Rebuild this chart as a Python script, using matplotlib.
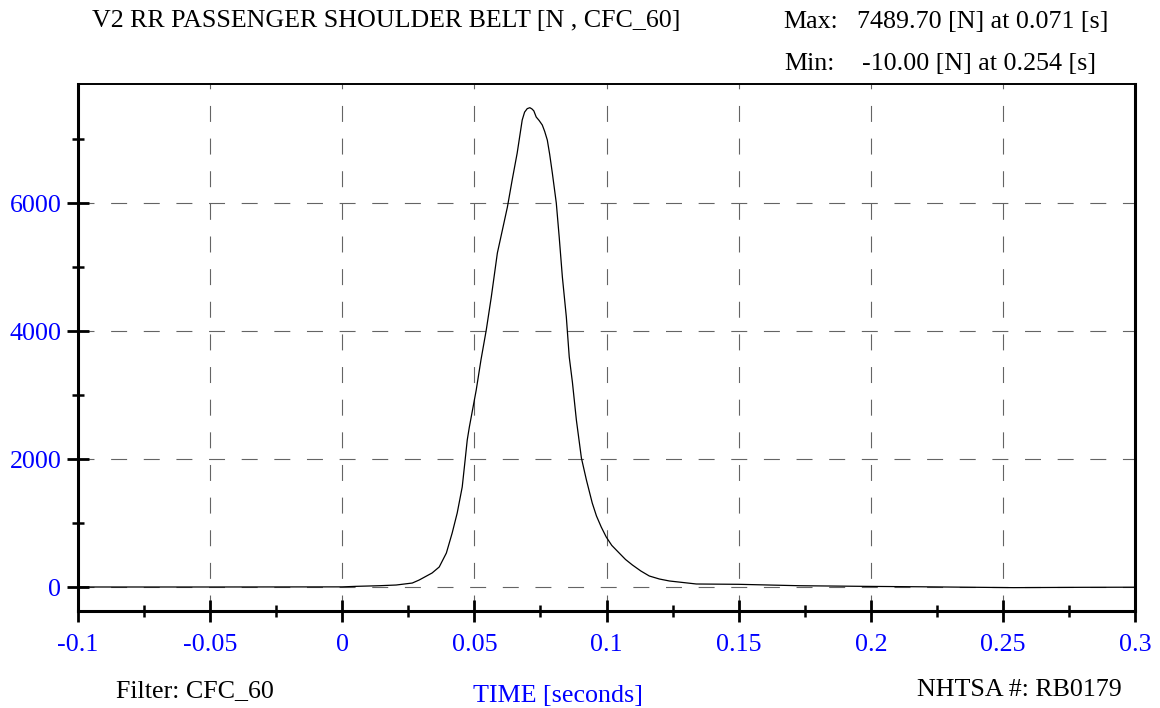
import matplotlib
matplotlib.use("Agg")
import matplotlib.pyplot as plt
from matplotlib.ticker import FixedLocator

plt.rcParams['lines.scale_dashes'] = False
plt.rcParams['font.family'] = ['Liberation Serif', 'DejaVu Serif']

# ---- data ----
time_s = [-0.1, -0.05, 0.0, 0.005, 0.014, 0.0204, 0.0265, 0.0291, 0.0340, 0.0367,
          0.0394, 0.0416, 0.0435, 0.0454, 0.0465, 0.0473, 0.0481, 0.0500, 0.0507,
          0.0525, 0.0545, 0.0564, 0.0587, 0.0606, 0.0625, 0.0643, 0.0662, 0.0681,
          0.0690, 0.0700, 0.0710, 0.0718, 0.0725, 0.0734, 0.0745, 0.0757, 0.0766,
          0.0776, 0.0785, 0.0795, 0.0810, 0.0821, 0.0833, 0.0848, 0.0859, 0.0871,
          0.0886, 0.0905, 0.0924, 0.0946, 0.0962, 0.0980, 0.0999, 0.1020, 0.1048,
          0.1072, 0.1098, 0.1130, 0.1162, 0.1200, 0.1238, 0.1340, 0.150, 0.173,
          0.198, 0.22, 0.254, 0.28, 0.3]
force_n = [0, 0, 2, 10, 20, 31, 62, 109, 219, 313,
           531, 844, 1156, 1563, 1984, 2297, 2500, 2922, 3078,
           3550, 4016, 4531, 5219, 5578, 5938, 6359, 6781, 7297,
           7420, 7475, 7489.7, 7470, 7440, 7344, 7290, 7219, 7120,
           6984, 6760, 6469, 6000, 5469, 4844, 4219, 3594, 3200,
           2609, 2016, 1672, 1313, 1110, 938, 781, 650, 531,
           430, 344, 250, 172, 125, 94, 47, 42, 20,
           10, 3, -10, -5, -3]

x_major = [-0.1, -0.05, 0.0, 0.05, 0.1, 0.15, 0.2, 0.25, 0.3]
x_major_labels = ["-0.1", "-0.05", "0", "0.05", "0.1", "0.15", "0.2", "0.25", "0.3"]
x_minor = [-0.075, -0.025, 0.025, 0.075, 0.125, 0.175, 0.225, 0.275]
y_major = [0, 2000, 4000, 6000]
y_major_labels = ["0", "2000", "4000", "6000"]
y_minor = [1000, 3000, 5000, 7000]

title_text = "V2 RR PASSENGER SHOULDER BELT [N , CFC_60]"
max_label, max_value = "Max:", "7489.70 [N] at 0.071 [s]"
min_label, min_value = "Min:", "-10.00 [N] at 0.254 [s]"
filter_text = "Filter: CFC_60"
xlabel_text = "TIME [seconds]"
id_text = "NHTSA #: RB0179"

# ---- figure ----
W, H = 1160, 708
fig = plt.figure(figsize=(W / 100, H / 100), dpi=100)
L, R, T, B = 78, 1135, 84, 611
ax = fig.add_axes([L / W, 1 - B / H, (R - L) / W, (B - T) / H])

ax.plot(time_s, force_n, color='black', lw=0.9, zorder=3)
ax.set_xlim(-0.1, 0.3)
ax.set_ylim(-375, 7860)

ax.xaxis.set_major_locator(FixedLocator(x_major))
ax.xaxis.set_minor_locator(FixedLocator(x_minor))
ax.yaxis.set_major_locator(FixedLocator(y_major))
ax.yaxis.set_minor_locator(FixedLocator(y_minor))
ax.set_xticklabels(x_major_labels)
ax.set_yticklabels(y_major_labels)

fs = 18.7
ax.tick_params(which='major', direction='inout', length=16, width=2.0,
               color='black', labelcolor='#0000ff', labelsize=fs)
ax.tick_params(which='minor', direction='inout', length=8, width=1.8, color='black')
ax.tick_params(axis='x', which='major', pad=8.5)
ax.tick_params(axis='y', which='major', pad=4)

for s in ['left', 'bottom', 'right']:
    ax.spines[s].set_linewidth(2.2)
ax.spines['top'].set_linewidth(1.4)

ax.grid(which='major', color='#646464', lw=0.8, linestyle=(0, (11.5, 12)))

ax.set_xlabel(xlabel_text, color='#0000ff', fontsize=fs)
ax.xaxis.set_label_coords((558 - L) / (R - L), -(685 - B) / (B - T))

def fx(px):
    return px / W

def fy(py):
    return 1 - py / H

fig.text(fx(92), fy(27), title_text, fontsize=fs, va='baseline', ha='left')
fig.text(fx(783), fy(28), max_label, fontsize=fs, va='baseline', ha='left')
fig.text(fx(857), fy(28), max_value, fontsize=fs, va='baseline', ha='left')
fig.text(fx(784), fy(70), min_label, fontsize=fs, va='baseline', ha='left')
fig.text(fx(862), fy(70), min_value, fontsize=fs, va='baseline', ha='left')
fig.text(fx(116), fy(697), filter_text, fontsize=fs, va='baseline', ha='left')
fig.text(fx(917), fy(696), id_text, fontsize=fs, va='baseline', ha='left')

fig.savefig('out.png', dpi=100, facecolor='white')
